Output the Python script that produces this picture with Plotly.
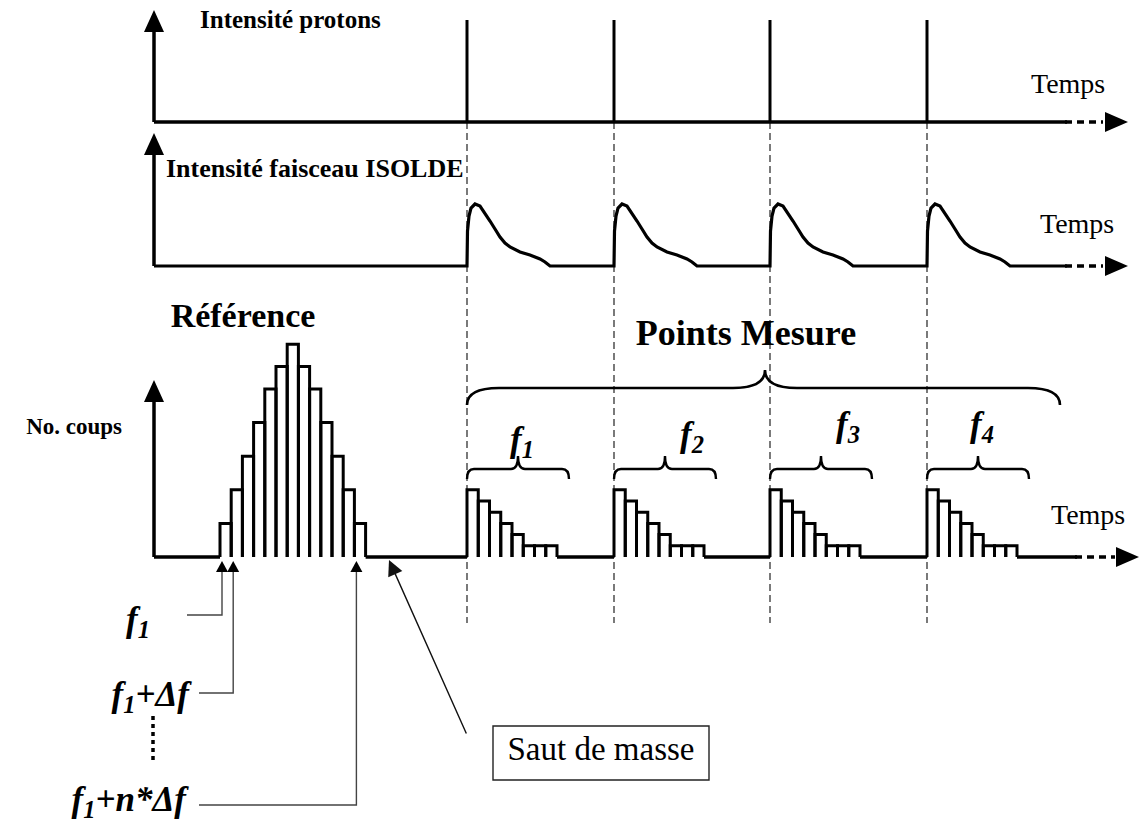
import plotly.graph_objects as go

# ---------------- data ----------------
pulse_times = [467, 614, 770, 927]            # proton pulse instants (time axis)
proton_height = [102, 102, 102, 102]          # proton spike heights
isolde_dt = [0, 0.5, 2, 4, 8, 13, 18, 23, 28, 33, 38, 43, 53, 63, 73, 78, 83]
isolde_amp = [0, 35, 50, 58, 62, 60, 53, 45, 37, 29, 23, 19, 14, 11, 7, 4, 0]
ref_counts = [3, 6, 9, 12, 15, 17, 19, 17, 15, 12, 9, 6, 3]   # reference scan
decay_counts = [6, 5, 4, 3, 2, 1, 1, 1]                       # counts after each pulse
meas_labels = ["1", "2", "3", "4"]
ref_marked_bins = [0, 1, 12]
ref_marked_labels = [
    "f<sub>1</sub>",
    "f<sub>1</sub>+Δf",
    "f<sub>1</sub>+n*Δf",
]
panel_titles = ["Intensité protons", "Intensité faisceau ISOLDE", "No. coups"]
time_label = "Temps"

# ---------------- geometry / style ----------------
W, H = 1141, 825
AX_X = 154
BASE = [122, 266, 557]
TIP = [10, 133, 380]
SOLID_END = [1067, 1067, 1077]
DOT_END = [1103, 1103, 1115]
HEAD_TIP = [1128, 1128, 1139]
HIST_X0, BIN_W, UNIT = 220, 11.2, 11.2
DEC_W = 11.25
GUIDE_END = 623
BLACK = "#000000"
LW = 3.5
SERIF = "Liberation Serif, Times New Roman, serif"

fig = go.Figure()


def add_line(xs, ys, width=LW, dash=None, color=BLACK):
    fig.add_trace(go.Scatter(x=xs, y=ys, mode="lines",
                             line=dict(color=color, width=width, dash=dash),
                             hoverinfo="skip", showlegend=False))


shapes = []


def tri_right(xt, y, L=23, hh=10):
    shapes.append(dict(type="path", xref="x", yref="y",
                       path=f"M {xt},{y} L {xt-L},{y-hh} L {xt-L},{y+hh} Z",
                       fillcolor=BLACK, line=dict(width=0)))


def tri_up(x, yt, L=22, hw=10):
    shapes.append(dict(type="path", xref="x", yref="y",
                       path=f"M {x},{yt} L {x-hw},{yt+L} L {x+hw},{yt+L} Z",
                       fillcolor=BLACK, line=dict(width=0)))


def brace(x0, x1, xm, ye, yf, yt, d, w):
    p = (f"M {x0},{ye} Q {x0},{yf} {x0+d},{yf} L {xm-d},{yf} "
         f"Q {xm},{yf} {xm},{yt} Q {xm},{yf} {xm+d},{yf} "
         f"L {x1-d},{yf} Q {x1},{yf} {x1},{ye}")
    shapes.append(dict(type="path", xref="x", yref="y", path=p,
                       line=dict(color=BLACK, width=w)))


# dashed guide lines
gx, gy = [], []
for t in pulse_times:
    gx += [t, t, None]
    gy += [BASE[0], GUIDE_END, None]
add_line(gx, gy, width=1.2, dash="7px,4px", color="#222222")

# vertical axes with arrows, dotted continuation, arrowheads
for i in range(3):
    add_line([AX_X, AX_X], [BASE[i], TIP[i] + 20])
    tri_up(AX_X, TIP[i])
    add_line([SOLID_END[i] - 2, DOT_END[i]], [BASE[i], BASE[i]], dash="7px,5px")
    tri_right(HEAD_TIP[i], BASE[i])

# panel 1: proton pulses
add_line([AX_X, SOLID_END[0]], [BASE[0], BASE[0]])
sx, sy = [], []
for t, h in zip(pulse_times, proton_height):
    sx += [t, t, None]
    sy += [BASE[0], BASE[0] - h, None]
add_line(sx, sy, width=3)

# panel 2: ISOLDE beam intensity
px, py = [AX_X], [BASE[1]]
for t in pulse_times:
    px += [t + d for d in isolde_dt]
    py += [BASE[1] - a for a in isolde_amp]
px.append(SOLID_END[1])
py.append(BASE[1])
add_line(px, py, width=3.2)

# panel 3: counts
bx, by = [], []
b = BASE[2]
for i, c in enumerate(ref_counts):
    x0 = HIST_X0 + i * BIN_W
    x1 = x0 + BIN_W
    bx += [x0, x0, x1, x1, None]
    by += [b, b - c * UNIT, b - c * UNIT, b, None]
for t in pulse_times:
    for i, c in enumerate(decay_counts):
        x0 = t + i * DEC_W
        x1 = x0 + DEC_W
        bx += [x0, x0, x1, x1, None]
        by += [b, b - c * UNIT, b - c * UNIT, b, None]
add_line(bx, by, width=3)

hist_end = HIST_X0 + len(ref_counts) * BIN_W
dec_len = len(decay_counts) * DEC_W
seg_x = [AX_X, HIST_X0, None, hist_end, pulse_times[0], None]
seg_y = [b, b, None, b, b, None]
for k, t in enumerate(pulse_times):
    nxt = pulse_times[k + 1] if k + 1 < len(pulse_times) else SOLID_END[2]
    seg_x += [t + dec_len, nxt, None]
    seg_y += [b, b, None]
add_line(seg_x, seg_y)

# markers under reference bins + connectors
conn_y = [615, 693, 805]
conn_left = [187, 199, 199]
cx, cy = [], []
for bi, yc, xl in zip(ref_marked_bins, conn_y, conn_left):
    xm = HIST_X0 + bi * BIN_W + 2
    tri_up(xm, b + 4, L=11, hw=6)
    cx += [xm, xm, xl, None]
    cy += [b + 15, yc, yc, None]
add_line(cx, cy, width=1.4, color="#444444")
add_line([153, 153], [716, 760], width=3.5, dash="4px,4px")

# braces
brace(pulse_times[0], 1060, 765, 405, 388, 370, 32, 2.6)
for t in pulse_times:
    brace(t, t + 102, t + 51, 479, 469, 456, 7, 2.4)

# Saut de masse box
shapes.append(dict(type="rect", xref="x", yref="y", x0=493, x1=709, y0=726, y1=780,
                   line=dict(color="#222222", width=1.4)))


def text(xs, ys, labels, size, pos="middle right", weight="normal", style="normal"):
    fig.add_trace(go.Scatter(x=xs, y=ys, text=labels, mode="text",
                             textposition=pos, cliponaxis=False,
                             textfont=dict(family=SERIF, size=size, color=BLACK,
                                           weight=weight, style=style),
                             hoverinfo="skip", showlegend=False))


text([200], [22], [panel_titles[0]], 25, weight="bold")
text([166], [170], [panel_titles[1]], 26, weight="bold")
text([122], [428], [panel_titles[2]], 23, pos="middle left", weight="bold")
text([1031, 1040, 1051], [86, 226, 517], [time_label] * 3, 28)
text([243], [318], ["Référence"], 34, pos="middle center", weight="bold")
text([746], [336], ["Points Mesure"], 36, pos="middle center", weight="bold")
text([601], [752], ["Saut de masse"], 33, pos="middle center")

meas_x = [522, 692, 848, 982]
meas_y = [442, 437, 427, 427]
text(meas_x, meas_y, [f"f<sub>{lab}</sub>" for lab in meas_labels], 35,
     pos="middle center", weight="bold", style="italic")

ref_lab_x = [150, 189, 186]
ref_lab_y = [622, 697, 802]
text(ref_lab_x, ref_lab_y, ref_marked_labels, 35, pos="middle left",
     weight="bold", style="italic")

fig.update_layout(
    width=W, height=H, autosize=False,
    margin=dict(l=0, r=0, t=0, b=0),
    paper_bgcolor="white", plot_bgcolor="white",
    xaxis=dict(range=[0, W], visible=False, fixedrange=True),
    yaxis=dict(range=[H, 0], visible=False, fixedrange=True),
    shapes=shapes, showlegend=False,
    annotations=[dict(x=389, y=560, ax=467, ay=735, xref="x", yref="y",
                      axref="x", ayref="y", text="", showarrow=True,
                      arrowhead=2, arrowsize=2.2, arrowwidth=1.4,
                      arrowcolor="#111111", standoff=0)],
)

fig.write_html("out.html", include_plotlyjs=True,
               config={"displayModeBar": False},
               post_script="document.body.style.margin='0';document.body.style.overflow='hidden';")
